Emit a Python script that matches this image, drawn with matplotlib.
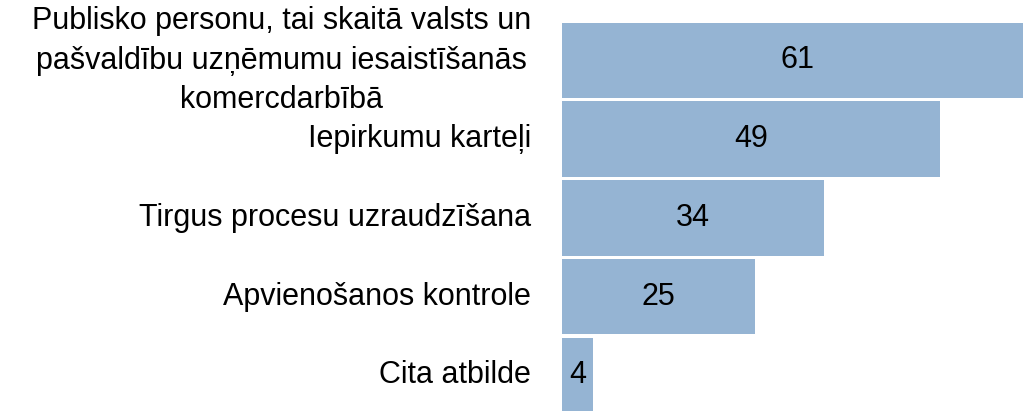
import matplotlib
matplotlib.use("Agg")
import matplotlib.pyplot as plt

categories = [
    "Publisko personu, tai skaitā valsts un\npašvaldību uzņēmumu iesaistīšanās\nkomercdarbībā",
    "Iepirkumu karteļi",
    "Tirgus procesu uzraudzīšana",
    "Apvienošanos kontrole",
    "Cita atbilde",
]
values = [61, 49, 34, 25, 4]

plt.rcParams['font.family'] = ['Liberation Sans', 'DejaVu Sans']

W, H = 1023, 411
fig = plt.figure(figsize=(W / 100, H / 100), dpi=100)
ax_left = 562 / W
ax = fig.add_axes([ax_left, 0, 1 - ax_left, 1])

bar_color = '#95B4D3'
px_per_unit = 7.71
pitch = 78.7
first_center = 60.5

positions = list(range(len(values)))
ax.barh(positions, values, height=0.96, color=bar_color, edgecolor='none')

ax.set_xlim(0, (W - 562) / px_per_unit)
ax.set_ylim((H - first_center) / pitch, -first_center / pitch)

for pos, v in zip(positions, values):
    ax.text(v / 2, pos, str(v), ha='center', va='center', fontsize=22, color='black')

for pos, label in zip(positions, categories):
    ax.text(-31 / px_per_unit, pos, label, ha='right', va='center',
            multialignment='center', fontsize=22, linespacing=1.4,
            color='black', clip_on=False)

ax.set_xticks([])
ax.set_yticks([])
for s in ax.spines.values():
    s.set_visible(False)

fig.savefig("out.png", dpi=100)
